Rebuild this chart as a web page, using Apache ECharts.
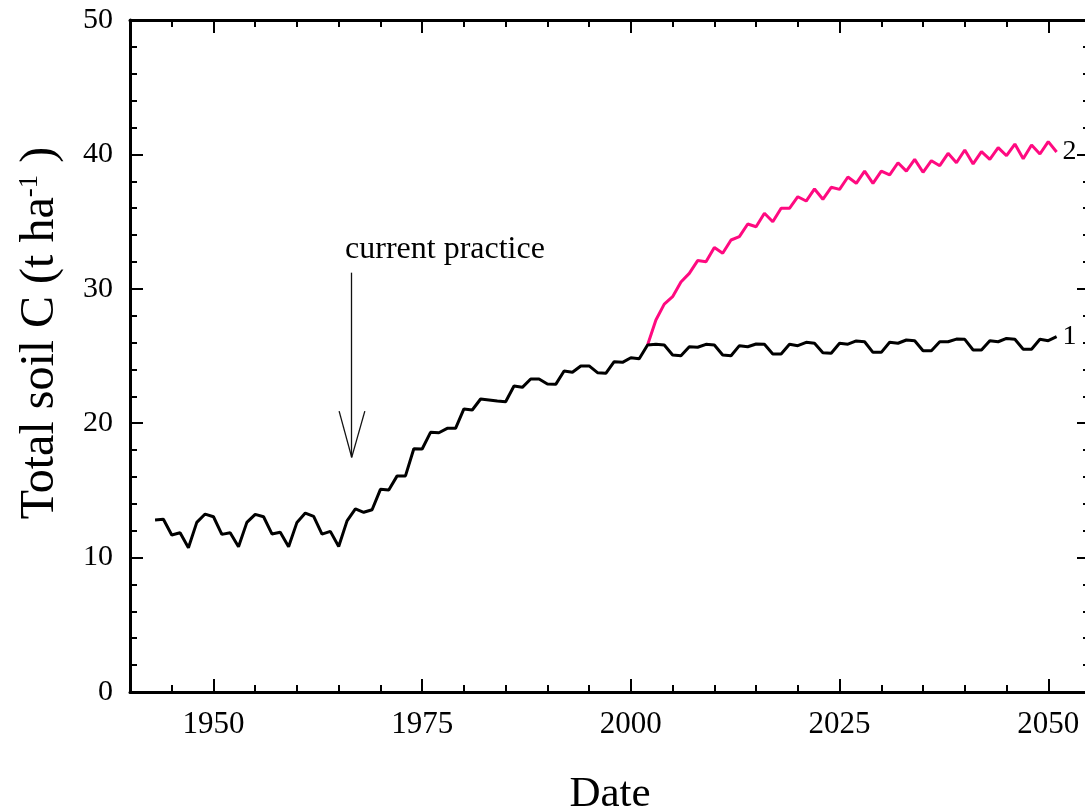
<!DOCTYPE html>
<html>
<head>
<meta charset="utf-8">
<title>Total soil C</title>
<script src="https://cdn.jsdelivr.net/npm/echarts@6/dist/echarts.min.js"></script>
<style>
  html, body { margin: 0; padding: 0; background: #fff; }
  #chart { width: 1085px; height: 809px; }
</style>
</head>
<body>
<div id="chart"></div>
<script>
// Simulated total soil carbon (t/ha), one value per year.
// Scenario 1: current practice, 1943-2051.
const firstYear1 = 1943;
const soilC1 = [
  12.80, 12.85, 11.68, 11.85, 10.74, 12.62, 13.24, 13.04, 11.73, 11.85,
  10.81, 12.62, 13.22, 13.04, 11.76, 11.88, 10.81, 12.62, 13.31, 13.07,
  11.75, 11.95, 10.83, 12.73, 13.62, 13.37, 13.56, 15.08, 15.03, 16.08,
  16.08, 18.10, 18.08, 19.32, 19.29, 19.62, 19.62, 21.06, 20.98, 21.80,
  21.73, 21.65, 21.60, 22.77, 22.67, 23.29, 23.29, 22.92, 22.89, 23.88,
  23.79, 24.26, 24.26, 23.76, 23.71, 24.58, 24.53, 24.87, 24.80, 25.82,
  25.87, 25.82, 25.07, 25.02, 25.69, 25.65, 25.87, 25.82, 25.07, 25.02,
  25.77, 25.69, 25.89, 25.87, 25.15, 25.15, 25.87, 25.77, 26.02, 25.95,
  25.25, 25.20, 25.95, 25.88, 26.12, 26.06, 25.27, 25.27, 26.02, 25.95,
  26.19, 26.14, 25.39, 25.39, 26.06, 26.06, 26.26, 26.24, 25.45, 25.45,
  26.14, 26.06, 26.31, 26.24, 25.50, 25.50, 26.24, 26.14, 26.44
];
// Scenario 2: changed management from 2002 onwards.
const firstYear2 = 2002;
const soilC2 = [
  25.82, 27.68, 28.86, 29.41, 30.50, 31.15, 32.10, 32.02, 33.07, 32.64,
  33.63, 33.88, 34.82, 34.62, 35.62, 34.99, 35.99, 35.99, 36.85, 36.53,
  37.43, 36.66, 37.55, 37.40, 38.32, 37.85, 38.76, 37.85, 38.76, 38.47,
  39.38, 38.76, 39.63, 38.67, 39.53, 39.16, 40.08, 39.38, 40.33, 39.29,
  40.20, 39.63, 40.50, 39.90, 40.77, 39.68, 40.70, 40.03, 40.95, 40.18
];
const seriesNames = ['1', '2'];

// Axis ranges and labelled ticks
const xMin = 1940, xMax = 2055, xMinorStep = 5;
const xMajorTicks = [1950, 1975, 2000, 2025, 2050];
const yMin = 0, yMax = 50, yStep = 10;

// "current practice" annotation (data coordinates)
const arrowYear = 1966.56, arrowTop = 31.2, arrowTip = 17.46;
const arrowWingYears = [1965.05, 1968.13], arrowWingValue = 20.9;
const noteYear = 1965.7, noteValue = 32.9, noteText = 'current practice';

const FONT = '"Liberation Serif", "Times New Roman", serif';

function toPairs(startYear, values) {
  return values.map((v, i) => [startYear + i, v]);
}

const chart = echarts.init(document.getElementById('chart'), null, { renderer: 'canvas' });

const axisLine = { show: true, lineStyle: { color: '#000', width: 3 } };
const tickStyle = { color: '#000', width: 2 };
const plainNumber = (v) => String(v);

function xAxisPair(position, withLabels) {
  return [
    {
      type: 'value', min: xMin, max: xMax, position: position,
      axisLine: axisLine,
      axisTick: { show: true, inside: true, length: 13, lineStyle: tickStyle, customValues: xMajorTicks },
      axisLabel: withLabels
        ? { show: true, customValues: xMajorTicks, formatter: plainNumber, fontSize: 31, fontFamily: FONT, color: '#000', margin: 17 }
        : { show: false },
      splitLine: { show: false },
      name: withLabels ? 'Date' : '',
      nameLocation: 'middle', nameGap: 81,
      nameTextStyle: { fontSize: 43, fontFamily: FONT, color: '#000' }
    },
    {
      type: 'value', min: xMin, max: xMax, interval: xMinorStep, position: position,
      axisLine: { show: false },
      axisTick: { show: true, inside: true, length: 7, lineStyle: tickStyle },
      axisLabel: { show: false },
      splitLine: { show: false }
    }
  ];
}

function yAxisDef(position, withLabels) {
  return {
    type: 'value', min: yMin, max: yMax, interval: yStep, position: position,
    axisLine: axisLine,
    axisTick: { show: true, inside: true, length: 13, lineStyle: tickStyle },
    minorTick: { show: true, splitNumber: 5, length: 7, lineStyle: tickStyle },
    axisLabel: withLabels
      ? { show: true, formatter: plainNumber, fontSize: 30, fontFamily: FONT, color: '#000', margin: 17 }
      : { show: false },
    splitLine: { show: false },
    minorSplitLine: { show: false },
    name: withLabels ? 'Total soil C (t ha{sup|-1}{n| )}' : '',
    nameLocation: 'middle', nameGap: 66,
    nameTextStyle: {
      fontSize: 48, fontFamily: FONT, color: '#000',
      padding: [0, 0, 0, 46],
      rich: {
        sup: { fontSize: 27, fontFamily: FONT, color: '#000', verticalAlign: 'top', lineHeight: 48 },
        n: { fontSize: 48, fontFamily: FONT, color: '#000', lineHeight: 48 }
      }
    }
  };
}

const option = {
  backgroundColor: '#fff',
  animation: false,
  grid: { left: 130, top: 20, width: 960, height: 672, outerBoundsMode: 'none', containLabel: false },
  xAxis: [...xAxisPair('bottom', true), ...xAxisPair('top', false)],
  yAxis: [yAxisDef('left', true), yAxisDef('right', false)],
  series: [
    {
      name: seriesNames[0], type: 'line', xAxisIndex: 0, yAxisIndex: 0,
      data: toPairs(firstYear1, soilC1),
      showSymbol: false, z: 3,
      lineStyle: { color: '#000', width: 3 },
      itemStyle: { color: '#000' },
      endLabel: { show: true, formatter: seriesNames[0], fontSize: 28, fontFamily: FONT, color: '#000', distance: 6 },
      markLine: {
        silent: true, symbol: ['none', 'none'],
        label: { show: false },
        lineStyle: { color: '#111', width: 1.3, type: 'solid' },
        data: [
          [{ coord: [arrowYear, arrowTop] }, { coord: [arrowYear, arrowTip] }],
          [{ coord: [arrowWingYears[0], arrowWingValue] }, { coord: [arrowYear, arrowTip] }],
          [{ coord: [arrowWingYears[1], arrowWingValue] }, { coord: [arrowYear, arrowTip] }]
        ]
      },
      markPoint: {
        silent: true,
        data: [{
          coord: [noteYear, noteValue], symbol: 'rect', symbolSize: 1,
          itemStyle: { color: 'rgba(0,0,0,0)' },
          label: { show: true, position: 'right', distance: 0, formatter: noteText, fontSize: 32, fontFamily: FONT, color: '#000' }
        }]
      }
    },
    {
      name: seriesNames[1], type: 'line', xAxisIndex: 0, yAxisIndex: 0,
      data: toPairs(firstYear2, soilC2),
      showSymbol: false, z: 2,
      lineStyle: { color: '#ff0a80', width: 3 },
      itemStyle: { color: '#ff0a80' },
      endLabel: { show: true, formatter: seriesNames[1], fontSize: 28, fontFamily: FONT, color: '#000', distance: 6 }
    }
  ]
};

chart.setOption(option);
</script>
</body>
</html>
